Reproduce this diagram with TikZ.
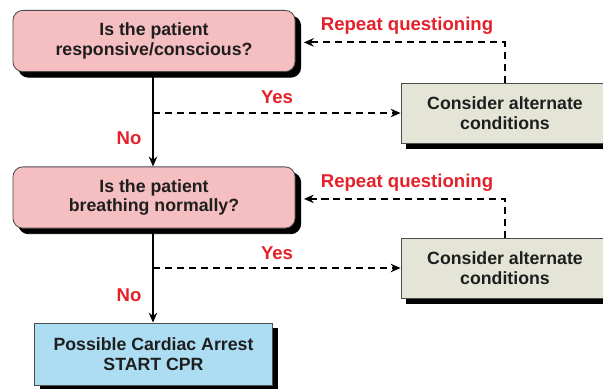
\documentclass[tikz,border=0pt]{standalone}
\usepackage{fontspec}
\setmainfont{Liberation Sans}
\usetikzlibrary{arrows.meta}
\definecolor{qpink}{RGB}{245,190,193}
\definecolor{qgrey}{RGB}{229,229,215}
\definecolor{qblue}{RGB}{172,221,242}
\definecolor{qred}{RGB}{228,32,42}
\definecolor{qtext}{RGB}{30,30,30}
\begin{document}
\begin{tikzpicture}[x=0.025cm,y=-0.025cm,
    line width=1.3pt,
    boxshadow/.style={preaction={fill=black,draw=black,transform canvas={shift={(4pt,-4pt)}}}},
    question/.style={rectangle,rounded corners=7pt,draw=black!70,line width=0.6pt,fill=qpink,
      boxshadow,minimum width=7.05cm,minimum height=1.53cm,align=center,
      font=\fontsize{12.6}{13.8}\selectfont\bfseries,text=qtext},
    other/.style={rectangle,draw=black!70,line width=0.6pt,fill=qgrey,boxshadow,
      minimum width=5.2cm,minimum height=1.5cm,align=center,
      font=\fontsize{12.6}{13.8}\selectfont\bfseries,text=qtext},
    action/.style={rectangle,draw=black!70,line width=0.6pt,fill=qblue,boxshadow,
      minimum width=5.93cm,minimum height=1.55cm,align=center,
      font=\fontsize{12.6}{13.8}\selectfont\bfseries,text=qtext},
    answer/.style={text=qred,font=\fontsize{13.2}{14}\selectfont\bfseries},
    yes line/.style={dashed,dash pattern=on 5pt off 3.5pt,-{Stealth[length=7pt,width=6pt]}},
    no line/.style={-{Stealth[length=7pt,width=6pt]}}
  ]
  \useasboundingbox (0,0) rectangle (603,388);

  \node[question] (resp) at (154,41) {Is the patient\\responsive/conscious?};
  \node[question] (breath) at (154,197.5) {Is the patient\\breathing normally?};
  \node[action] (cpr) at (153.5,354) {Possible Cardiac Arrest\\START CPR};
  \node[other] (alt1) at (505,113) {Consider alternate\\conditions};
  \node[other] (alt2) at (505,268) {Consider alternate\\conditions};

  \coordinate (fork1) at (153,113);
  \coordinate (fork2) at (153,268);

  \node[answer] (yes1) at (277,97) {Yes};
  \node[answer] (yes2) at (277,253) {Yes};
  \node[answer] (no1) at (129,138) {No};
  \node[answer] (no2) at (129,295) {No};
  \node[answer] (rep1) at (407,26) {Repeat questioning};
  \node[answer] (rep2) at (407,183) {Repeat questioning};

  \draw[no line] (resp.south -| fork1) -- (breath.north -| fork1);
  \draw[no line] (breath.south -| fork2) -- (cpr.north -| fork2);
  \draw[yes line] (fork1) -- (alt1);
  \draw[yes line] (fork2) -- (alt2);
  \draw[yes line,shorten >=6pt] (alt1.north) |- ([yshift=-1pt]resp.east);
  \draw[yes line,shorten >=6pt] (alt2.north) |- ([yshift=-1pt]breath.east);
\end{tikzpicture}
\end{document}
